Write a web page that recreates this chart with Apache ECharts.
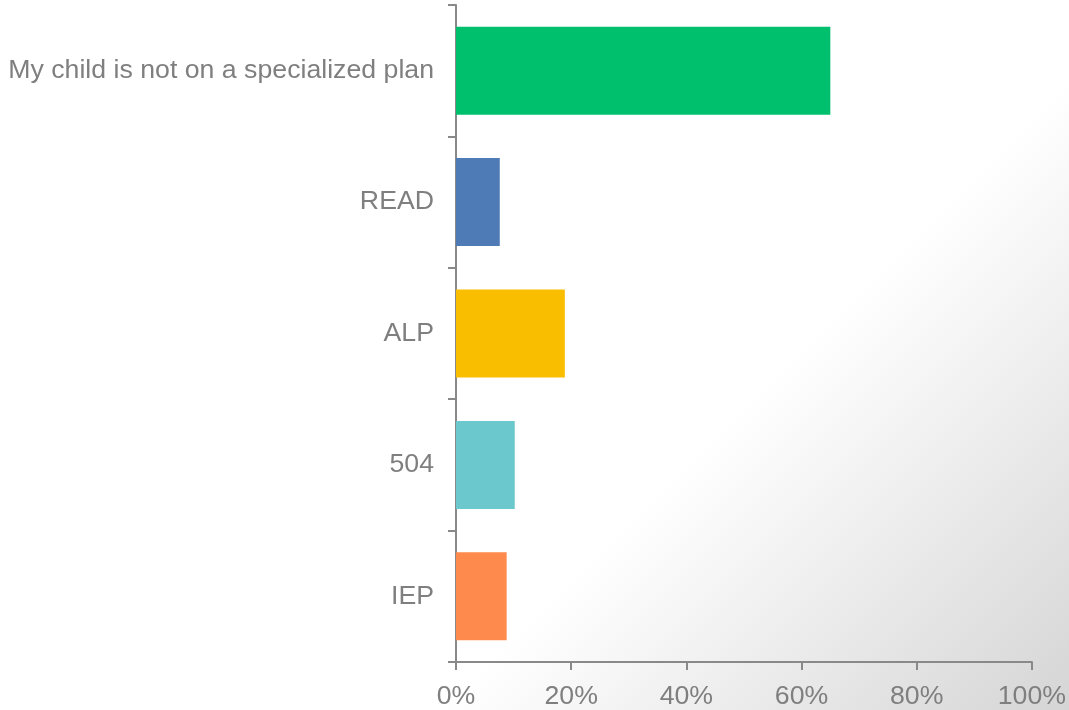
<!DOCTYPE html>
<html>
<head>
<meta charset="utf-8">
<script src="https://cdn.jsdelivr.net/npm/echarts@6/dist/echarts.min.js"></script>
<style>html,body{margin:0;padding:0;}#c{width:1069px;height:710px;}</style>
</head>
<body>
<div id="c"></div>
<script>
const categories = ['My child is not on a specialized plan', 'READ', 'ALP', '504', 'IEP'];
const values = [65.0, 7.6, 18.9, 10.2, 8.8];
const barColors = ['#00C06E', '#4E7AB5', '#F9BE00', '#6BC8CC', '#FF8A4D'];
const xTicks = [0, 20, 40, 60, 80, 100];

const chart = echarts.init(document.getElementById('c'));
const axisGray = '#898989';
const textGray = '#7f7f7f';
chart.setOption({
  backgroundColor: {
    type: 'linear', global: true,
    x: 575, y: 575, x2: 890, y2: 890,
    colorStops: [{offset: 0, color: '#ffffff'}, {offset: 1, color: '#d6d5d6'}]
  },
  animation: false,
  grid: {left: 456, top: 5, right: 37, bottom: 48, containLabel: false},
  xAxis: {
    type: 'value', min: xTicks[0], max: xTicks[xTicks.length - 1], interval: 20,
    axisLine: {show: true, lineStyle: {color: axisGray, width: 2}},
    axisTick: {show: true, length: 8, lineStyle: {color: axisGray, width: 2}},
    splitLine: {show: false},
    axisLabel: {formatter: v => v + '%', color: textGray, fontSize: 26.7, fontFamily: 'Liberation Sans, Arial', margin: 21}
  },
  yAxis: {
    type: 'category', data: categories, inverse: true,
    axisLine: {show: true, lineStyle: {color: axisGray, width: 2}},
    axisTick: {show: true, length: 8, lineStyle: {color: axisGray, width: 2}},
    axisLabel: {color: textGray, fontSize: 26.7, fontFamily: 'Liberation Sans, Arial', margin: 22}
  },
  series: [{
    type: 'bar',
    data: values.map((v, i) => ({value: v, itemStyle: {color: barColors[i]}})),
    barWidth: '67%'
  }]
});
</script>
</body>
</html>
